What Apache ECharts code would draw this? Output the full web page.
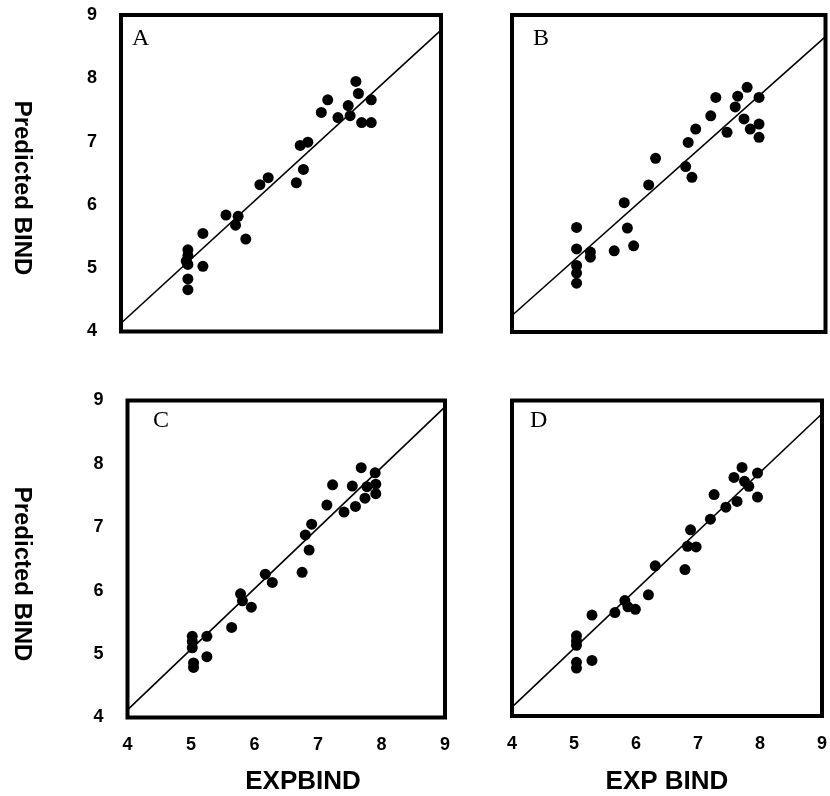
<!DOCTYPE html>
<html>
<head>
<meta charset="utf-8">
<script src="https://cdn.jsdelivr.net/npm/echarts@6/dist/echarts.min.js"></script>
<style>html,body{margin:0;padding:0;background:#fff}#c{width:830px;height:796px}</style>
</head>
<body>
<div id="c"></div>
<script>
// Axis range and tick labels
const axisMin = 4, axisMax = 9, axisStep = 1;
const panelLetters = ['A', 'B', 'C', 'D'];
const yTitle = 'Predicted BIND';
const xTitleC = 'EXPBIND';
const xTitleD = 'EXP BIND';

// Panel A: experimental vs predicted
const aExp  = [5.045,5.045,5.02,5.045,5.045,5.045,5.28,5.28,5.64,5.83,5.79,5.95,6.17,6.30,6.74,6.85,6.80,6.92,7.13,7.23,7.39,7.55,7.58,7.67,7.71,7.91,7.76,7.91];
const aPred = [5.29,5.20,5.11,5.06,4.83,4.66,5.55,5.03,5.84,5.82,5.68,5.46,6.32,6.43,6.35,6.56,6.94,6.99,7.46,7.66,7.38,7.57,7.41,7.95,7.76,7.66,7.30,7.30];
const aFit  = [[4, 4.13], [9, 8.76]];

// Panel B
const bExp  = [5.03,5.03,5.03,5.03,5.03,5.25,5.25,5.63,5.79,5.84,5.94,6.18,6.29,6.77,6.87,6.81,6.93,7.17,7.25,7.43,7.56,7.60,7.75,7.70,7.80,7.94,7.94,7.94];
const bPred = [5.65,5.31,5.05,4.93,4.77,5.26,5.18,5.28,6.04,5.64,5.36,6.32,6.74,6.61,6.44,6.99,7.20,7.41,7.70,7.15,7.55,7.72,7.86,7.36,7.20,7.70,7.28,7.07];
const bFit  = [[4, 4.26], [9, 8.66]];

// Panel C
const cExp  = [5.02,5.02,5.02,5.04,5.04,5.25,5.25,5.64,5.78,5.81,5.95,6.17,6.28,6.75,6.80,6.86,6.90,7.14,7.23,7.41,7.59,7.54,7.68,7.74,7.77,7.90,7.91,7.91];
const cPred = [5.28,5.20,5.10,4.86,4.79,5.28,4.96,5.42,5.95,5.84,5.74,6.26,6.13,6.29,6.88,6.64,7.05,7.35,7.67,7.24,7.33,7.65,7.94,7.46,7.64,7.86,7.68,7.53];
const cFit  = [[4, 4.12], [9, 8.90]];

// Panel D
const dExp  = [5.04,5.04,5.04,5.04,5.04,5.29,5.29,5.66,5.82,5.87,5.99,6.20,6.31,6.79,6.83,6.97,6.88,7.20,7.26,7.45,7.63,7.58,7.71,7.75,7.82,7.96,7.96];
const dPred = [5.27,5.19,5.12,4.85,4.76,5.60,4.88,5.64,5.83,5.73,5.69,5.92,6.38,6.32,6.69,6.68,6.95,7.12,7.51,7.31,7.40,7.78,7.94,7.72,7.64,7.85,7.47];
const dFit  = [[4, 4.14], [9, 8.79]];

const panels = [
  {exp: aExp, pred: aPred, fit: aFit},
  {exp: bExp, pred: bPred, fit: bFit},
  {exp: cExp, pred: cPred, fit: cFit},
  {exp: dExp, pred: dPred, fit: dFit}
];

const gridBoxes = [
  {left: 121,   top: 15,    width: 320,   height: 316.5},
  {left: 512,   top: 15,    width: 313.5, height: 317},
  {left: 127.5, top: 400.5, width: 317.5, height: 317},
  {left: 512,   top: 400.5, width: 316,   height: 315.5}
];

const labelFont = {fontFamily: 'Liberation Sans, Arial, sans-serif', fontWeight: 'bold', fontSize: 18, color: '#000'};

const grids = gridBoxes.map(g => Object.assign({show: true, borderColor: '#000', borderWidth: 4, backgroundColor: 'transparent', containLabel: false}, g));

const xAxes = gridBoxes.map((g, i) => ({
  type: 'value', gridIndex: i, min: axisMin, max: axisMax, interval: axisStep,
  axisLine: {show: false}, axisTick: {show: false}, splitLine: {show: false},
  axisLabel: Object.assign({show: i >= 2, margin: 19}, labelFont)
}));
const yAxes = gridBoxes.map((g, i) => ({
  type: 'value', gridIndex: i, min: axisMin, max: axisMax, interval: axisStep,
  axisLine: {show: false}, axisTick: {show: false}, splitLine: {show: false},
  axisLabel: Object.assign({show: i % 2 === 0, margin: 24}, labelFont)
}));

const series = [];
panels.forEach((p, i) => {
  series.push({
    type: 'line', xAxisIndex: i, yAxisIndex: i, data: p.fit,
    symbol: 'none', lineStyle: {color: '#000', width: 1.6}, silent: true, z: 2
  });
  series.push({
    type: 'scatter', xAxisIndex: i, yAxisIndex: i,
    data: p.exp.map((x, k) => [x, p.pred[k]]),
    symbol: 'circle', symbolSize: 11, itemStyle: {color: '#000', opacity: 1}, z: 3
  });
});

const letterPos = [[132, 39], [533, 39], [153, 421], [530, 421]];
const graphic = [];
panelLetters.forEach((t, i) => {
  graphic.push({type: 'text', left: letterPos[i][0], top: letterPos[i][1] - 12,
    style: {text: t, font: '24px "Liberation Serif", "Times New Roman", serif', fill: '#000'}});
});
[[22, 188], [22, 574]].forEach(pos => {
  graphic.push({type: 'text', x: pos[0], y: pos[1], rotation: -Math.PI / 2,
    style: {text: yTitle, font: 'bold 24px "Liberation Sans", Arial, sans-serif', fill: '#000', textAlign: 'center', textVerticalAlign: 'middle'}});
});
graphic.push({type: 'text', x: 303, y: 782,
  style: {text: xTitleC, font: 'bold 26px "Liberation Sans", Arial, sans-serif', fill: '#000', textAlign: 'center', textVerticalAlign: 'middle'}});
graphic.push({type: 'text', x: 667, y: 782,
  style: {text: xTitleD, font: 'bold 26px "Liberation Sans", Arial, sans-serif', fill: '#000', textAlign: 'center', textVerticalAlign: 'middle'}});

const chart = echarts.init(document.getElementById('c'), null, {renderer: 'canvas'});
chart.setOption({
  animation: false,
  backgroundColor: '#fff',
  grid: grids,
  xAxis: xAxes,
  yAxis: yAxes,
  series: series,
  graphic: graphic
});
</script>
</body>
</html>
